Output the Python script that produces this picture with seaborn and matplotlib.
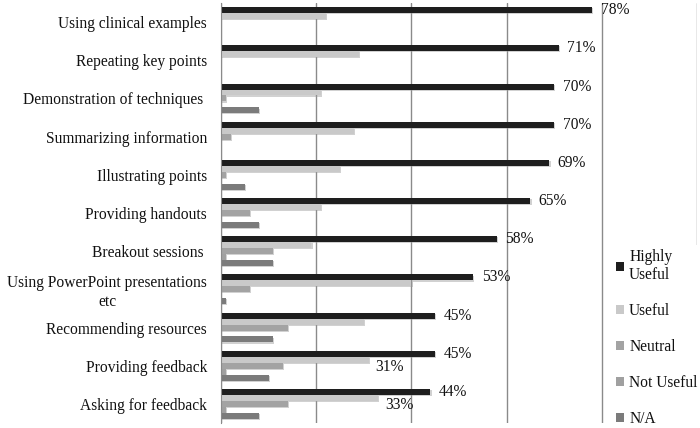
import numpy as np
import pandas as pd
import matplotlib.pyplot as plt
import matplotlib.patheffects as pe
import seaborn as sns
from matplotlib.patches import Patch

# Categories (top to bottom) and response series, values in %
categories = ['Using clinical examples', 'Repeating key points', 'Demonstration of techniques ',
              'Summarizing information', 'Illustrating points', 'Providing handouts',
              'Breakout sessions ', 'Using PowerPoint presentations\netc',
              'Recommending resources', 'Providing feedback', 'Asking for feedback']
responses = ['Highly Useful', 'Useful', 'Neutral', 'Not Useful', 'N/A']
legend_labels = ['Highly\nUseful', 'Useful', 'Neutral', 'Not Useful', 'N/A']

highly_useful = [78, 71, 70, 70, 69, 65, 58, 53, 45, 45, 44]
useful = [22, 29, 21, 28, 25, 21, 19, 40, 30, 31, 33]
neutral = [0, 0, 1, 2, 1, 6, 11, 6, 14, 13, 14]
not_useful = [0, 0, 0, 0, 0, 0, 1, 0, 0, 1, 1]
n_a = [0, 0, 8, 0, 5, 8, 11, 1, 11, 10, 8]

# only these "Useful" values carry a label in the original
useful_labelled = ['Providing feedback', 'Asking for feedback']

colors = ['#1e1e1e', '#c9c9c9', '#a3a3a3', '#a0a0a0', '#7b7b7b']

series = [highly_useful, useful, neutral, not_useful, n_a]
rows = []
for resp, vals in zip(responses, series):
    for cat, v in zip(categories, vals):
        rows.append({'category': cat, 'response': resp, 'value': v})
df = pd.DataFrame(rows)

sns.set_style('white')
plt.rcParams['font.family'] = ['Liberation Serif', 'DejaVu Serif']
plt.rcParams['font.size'] = 11.2

fig = plt.figure(figsize=(7, 4.28), dpi=100)
ax = fig.add_axes([221 / 700, 1 - 423 / 428, (697 - 221) / 700, 420 / 428])

sns.barplot(data=df, x='value', y='category', hue='response', order=categories,
            hue_order=responses, palette=colors, width=0.78, saturation=1,
            orient='h', errorbar=None, legend=False, linewidth=0, ax=ax)

# soft drop shadow like the original office chart
shadow = [pe.SimplePatchShadow(offset=(0.8, -0.8), shadow_rgbFace='#9a9a9a', alpha=0.45),
          pe.Normal()]
for cont in ax.containers:
    for bar in cont:
        bar.set_path_effects(shadow)

ax.set_xlim(0, 100)
ax.set_ylim(len(categories) - 0.5, -0.5)
ax.set_xticks(np.arange(0, 101, 20))
ax.tick_params(axis='x', length=0, labelbottom=False)
ax.grid(axis='x', color='#8a8a8a', linewidth=1)
ax.set_axisbelow(True)
ax.set_xlabel('')
ax.set_ylabel('')

for s in ['top', 'right', 'bottom']:
    ax.spines[s].set_visible(False)
ax.spines['left'].set_color('#8a8a8a')

ax.set_yticks(np.arange(-0.5, len(categories)), minor=True)
ax.tick_params(axis='y', which='major', length=0, pad=10, labelcolor='#111111')
ax.tick_params(axis='y', which='minor', length=4, color='#8a8a8a', width=1)
for lbl in ax.get_yticklabels():
    lbl.set_multialignment('center')

# Data labels
hu_bars = ax.containers[0]
ax.bar_label(hu_bars, labels=[f'{v}%' for v in highly_useful], padding=6, fontsize=11.2,
             color='#111111')

useful_bars = ax.containers[1]
for bar, cat, v in zip(useful_bars, categories, useful):
    if cat in useful_labelled:
        ax.annotate(f'{v}%', xy=(bar.get_width(), bar.get_y() + bar.get_height() / 2),
                    xytext=(5, -5), textcoords='offset points', va='center', ha='left',
                    fontsize=11.2, color='#111111')

handles = [Patch(facecolor=c, edgecolor='none') for c in colors]
leg = ax.legend(handles, legend_labels, loc='upper left',
                bbox_to_anchor=(612 / 700, 1 - 245 / 428), bbox_transform=fig.transFigure,
                frameon=True, facecolor='white', edgecolor='none', framealpha=1,
                fancybox=False, handlelength=0.55, handleheight=0.55, handletextpad=0.3,
                labelspacing=1.28, borderpad=0.25, borderaxespad=0, fontsize=11.2,
                labelcolor='#111111')

fig.savefig('out.png', dpi=100)
